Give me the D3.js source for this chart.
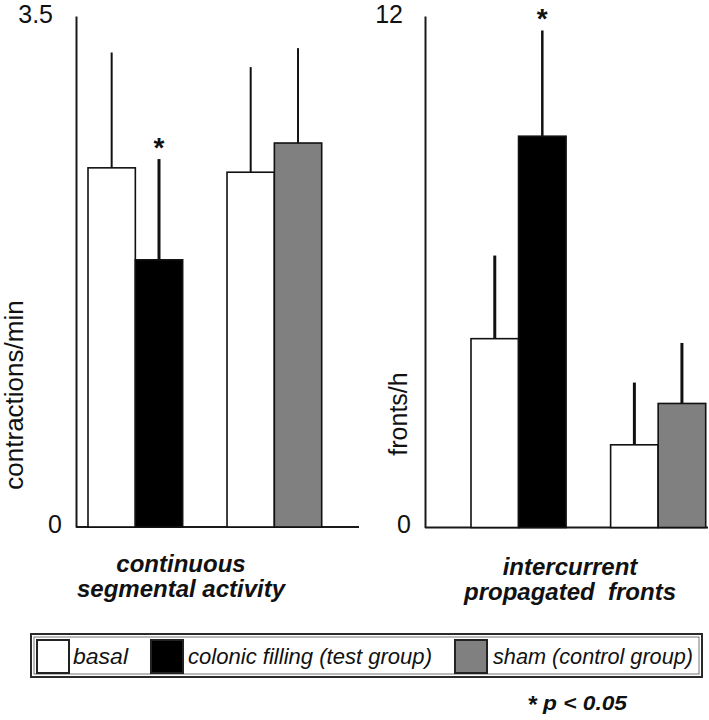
<!DOCTYPE html>
<html>
<head>
<meta charset="utf-8">
<script src="https://cdn.jsdelivr.net/npm/d3@7"></script>
<style>
  html, body { margin: 0; padding: 0; background: #fff; }
  svg { display: block; font-family: "Liberation Sans", Arial, sans-serif; }
</style>
</head>
<body>
<svg id="chart" width="709" height="720"></svg>
<script>
// ---------------- DATA ----------------
const seriesNames = ["basal", "colonic filling (test group)", "sham (control group)"];
const seriesFill = ["#ffffff", "#000000", "#808080"];
const panelTitles = [["continuous", "segmental activity"], ["intercurrent", "propagated  fronts"]];
const yLabels = ["contractions/min", "fronts/h"];
const yMax = [3.5, 12];
const yTickLabels = [["0", "3.5"], ["0", "12"]];
const groupNames = ["test group", "control group"];
// series index used by each bar in a group
const groupSeries = [[0, 1], [0, 2]];
// continuous segmental activity (contractions/min)
const csaMean = [[2.46, 1.83], [2.43, 2.63]];
const csaSD = [[0.79, 0.69], [0.72, 0.65]];
// intercurrent propagated fronts (fronts/h)
const ipfMean = [[4.43, 9.18], [1.94, 2.91]];
const ipfSD = [[1.95, 2.48], [1.46, 1.42]];
// significance markers (p < 0.05)
const csaSig = [[false, true], [false, false]];
const ipfSig = [[false, true], [false, false]];
const pNote = "p < 0.05";

// ---------------- LAYOUT ----------------
const layout = [
  { axisX: 76, yTop: 16, yZero: 527, axisEnd: 359, barRange: [88, 321.7], errW: [2, 3, 2],
    tickDx: [0, -9], ylabX: 23, ylabY: 395, ylabSize: 26, titleX: 181, titleY: [572, 597] },
  { axisX: 425, yTop: 16, yZero: 527.5, axisEnd: 708, barRange: [471, 705.7], errW: [3, 2.5, 3],
    tickDx: [0, -8], ylabX: 407, ylabY: 414, ylabSize: 25, titleX: 570, titleY: [575, 600] }
];
const means = [csaMean, ipfMean];
const sds = [csaSD, ipfSD];
const sigs = [csaSig, ipfSig];

const svg = d3.select("#chart");

layout.forEach((L, p) => {
  const g = svg.append("g");
  const y = d3.scaleLinear().domain([0, yMax[p]]).range([L.yZero, L.yTop]);
  const xOuter = d3.scaleBand().domain(groupNames).range(L.barRange).paddingInner(0.319).paddingOuter(0);
  const xInner = d3.scaleBand().domain([0, 1]).range([0, xOuter.bandwidth()]);

  // y axis
  const yAxis = d3.axisLeft(y)
    .tickValues([0, yMax[p]])
    .tickFormat((d, i) => yTickLabels[p][i])
    .tickSize(0).tickSizeOuter(0).tickPadding(14);
  const ga = g.append("g").attr("transform", `translate(${L.axisX},0)`).call(yAxis);
  ga.select(".domain").attr("stroke", "#1a1a1a").attr("stroke-width", 2);
  ga.selectAll(".tick text")
    .attr("font-size", 25).attr("fill", "#111")
    .attr("font-family", "Liberation Sans, Arial, sans-serif")
    .attr("dx", (d, i) => L.tickDx[i])
    .attr("dy", (d, i) => i === 0 ? "0.2em" : "0.25em");

  // x axis baseline
  const xAxisScale = d3.scaleLinear().range([L.axisX, L.axisEnd]);
  g.append("line")
    .attr("x1", xAxisScale(0)).attr("x2", xAxisScale(1))
    .attr("y1", y(0)).attr("y2", y(0))
    .attr("stroke", "#1a1a1a").attr("stroke-width", 2);

  // bars
  groupNames.forEach((gn, gi) => {
    groupSeries[gi].forEach((s, bi) => {
      const m = means[p][gi][bi];
      const sd = sds[p][gi][bi];
      const x0 = xOuter(gn) + xInner(bi);
      const w = xInner.bandwidth();
      const cx = x0 + w / 2;
      // error bar (upper)
      g.append("line")
        .attr("x1", cx).attr("x2", cx)
        .attr("y1", y(m)).attr("y2", y(m + sd))
        .attr("stroke", "#111").attr("stroke-width", L.errW[s]);
      g.append("rect")
        .attr("x", x0).attr("y", y(m))
        .attr("width", w).attr("height", y(0) - y(m))
        .attr("fill", seriesFill[s])
        .attr("stroke", "#111").attr("stroke-width", 1.6);
      if (sigs[p][gi][bi]) {
        g.append("text")
          .attr("x", cx).attr("y", y(m + sd) - 2)
          .attr("text-anchor", "middle")
          .attr("font-size", 28).attr("font-weight", "bold").attr("fill", "#111")
          .text("*");
      }
    });
  });

  // y label
  g.append("text")
    .attr("transform", `translate(${L.ylabX},${L.ylabY}) rotate(-90)`)
    .attr("text-anchor", "middle")
    .attr("font-size", L.ylabSize).attr("fill", "#111")
    .text(yLabels[p]);

  // panel title
  panelTitles[p].forEach((t, i) => {
    g.append("text")
      .attr("x", L.titleX).attr("y", L.titleY[i])
      .attr("text-anchor", "middle")
      .attr("font-size", 24).attr("font-weight", "bold").attr("font-style", "italic")
      .attr("fill", "#111")
      .attr("xml:space", "preserve")
      .style("white-space", "pre")
      .text(t);
  });
});

// ---------------- LEGEND ----------------
const leg = svg.append("g");
leg.append("rect").attr("x", 31).attr("y", 634).attr("width", 671).attr("height", 43)
  .attr("fill", "#fff").attr("stroke", "#2a2a2a").attr("stroke-width", 2);
leg.append("rect").attr("x", 34).attr("y", 637).attr("width", 665).attr("height", 37)
  .attr("fill", "none").attr("stroke", "#777").attr("stroke-width", 1);
const legSwatchX = [37, 151, 455];
const legTextX = [73, 188, 493];
const legTextW = [55, 244, 200];
seriesNames.forEach((n, i) => {
  leg.append("rect").attr("x", legSwatchX[i]).attr("y", 640).attr("width", 32).attr("height", 33)
    .attr("fill", seriesFill[i]).attr("stroke", "#222").attr("stroke-width", 2);
  leg.append("text").attr("x", legTextX[i]).attr("y", 664)
    .attr("font-size", 22).attr("font-style", "italic").attr("fill", "#111")
    .attr("textLength", legTextW[i]).attr("lengthAdjust", "spacingAndGlyphs")
    .text(n);
});

// p note
svg.append("text").attr("x", 533).attr("y", 713)
  .attr("text-anchor", "middle")
  .attr("font-size", 24).attr("font-weight", "bold").attr("fill", "#111").text("*");
svg.append("text").attr("x", 543).attr("y", 710)
  .attr("font-size", 21).attr("font-weight", "bold").attr("font-style", "italic").attr("fill", "#111")
  .attr("textLength", 84).attr("lengthAdjust", "spacingAndGlyphs")
  .text(pNote);
</script>
</body>
</html>
